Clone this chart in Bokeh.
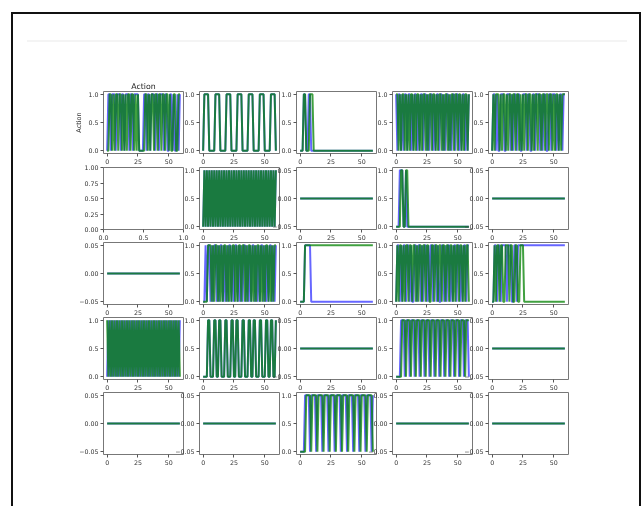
from bokeh.plotting import figure
from bokeh.layouts import row, column
from bokeh.models import FixedTicker, Range1d, Div, PrintfTickFormatter
from bokeh.embed import file_html
from bokeh.resources import INLINE

# ---------------- data (time step, binary action per panel) ----------------
STEPS = list(range(60))

FLAT = [0, 0, 0, 0, 0, 0, 0, 0, 0, 0,
        0, 0, 0, 0, 0, 0, 0, 0, 0, 0,
        0, 0, 0, 0, 0, 0, 0, 0, 0, 0,
        0, 0, 0, 0, 0, 0, 0, 0, 0, 0,
        0, 0, 0, 0, 0, 0, 0, 0, 0, 0,
        0, 0, 0, 0, 0, 0, 0, 0, 0, 0]

R1C1_BLUE = [0, 1, 1, 0, 1, 1, 1, 0, 1, 1,
             1, 0, 1, 1, 0, 1, 1, 1, 0, 1,
             1, 0, 1, 1, 1, 1, 0, 0, 0, 0,
             1, 1, 0, 1, 1, 0, 1, 1, 1, 0,
             1, 1, 0, 1, 1, 1, 0, 1, 1, 0,
             0, 1, 1, 0, 1, 0, 0, 1, 0, 1]
R1C1_GREEN = [0, 0, 1, 1, 0, 1, 0, 1, 1, 0,
              1, 1, 0, 1, 0, 1, 0, 1, 1, 0,
              1, 1, 0, 1, 0, 1, 0, 0, 0, 0,
              0, 1, 1, 0, 1, 0, 1, 1, 0, 1,
              1, 0, 1, 1, 0, 1, 1, 0, 1, 1,
              0, 1, 0, 0, 1, 1, 0, 0, 1, 1]

R1C2_BLUE = [0, 1, 1, 1, 1, 0, 0, 0, 0, 0,
             1, 1, 1, 1, 0, 0, 0, 0, 0, 1,
             1, 1, 1, 0, 0, 0, 0, 0, 1, 1,
             1, 1, 0, 0, 0, 0, 0, 1, 1, 1,
             1, 0, 0, 0, 0, 0, 1, 1, 1, 1,
             0, 0, 0, 0, 0, 1, 1, 1, 1, 0]
R1C2_GREEN = [0, 1, 1, 1, 1, 0, 0, 0, 0, 0,
              1, 1, 1, 1, 0, 0, 0, 0, 0, 1,
              1, 1, 1, 0, 0, 0, 0, 0, 1, 1,
              1, 1, 0, 0, 0, 0, 0, 1, 1, 1,
              1, 0, 0, 0, 0, 0, 1, 1, 1, 1,
              0, 0, 0, 0, 0, 1, 1, 1, 1, 0]

R1C3_BLUE = [0, 0, 0, 1, 1, 0, 0, 1, 1, 0,
             0, 0, 0, 0, 0, 0, 0, 0, 0, 0,
             0, 0, 0, 0, 0, 0, 0, 0, 0, 0,
             0, 0, 0, 0, 0, 0, 0, 0, 0, 0,
             0, 0, 0, 0, 0, 0, 0, 0, 0, 0,
             0, 0, 0, 0, 0, 0, 0, 0, 0, 0]
R1C3_GREEN = [0, 0, 0, 1, 1, 0, 0, 0, 1, 1,
              1, 0, 0, 0, 0, 0, 0, 0, 0, 0,
              0, 0, 0, 0, 0, 0, 0, 0, 0, 0,
              0, 0, 0, 0, 0, 0, 0, 0, 0, 0,
              0, 0, 0, 0, 0, 0, 0, 0, 0, 0,
              0, 0, 0, 0, 0, 0, 0, 0, 0, 0]

R1C4_BLUE = [1, 0, 1, 1, 0, 1, 0, 1, 1, 0,
             1, 1, 0, 1, 0, 1, 1, 0, 1, 0,
             1, 1, 0, 1, 1, 0, 1, 0, 1, 1,
             0, 1, 0, 1, 1, 0, 1, 1, 0, 1,
             0, 1, 1, 0, 1, 0, 1, 1, 0, 1,
             1, 0, 1, 0, 1, 1, 0, 1, 0, 1]
R1C4_GREEN = [1, 1, 0, 1, 0, 1, 1, 0, 1, 0,
              1, 0, 1, 1, 0, 1, 0, 1, 1, 0,
              1, 0, 1, 1, 0, 1, 0, 1, 1, 0,
              1, 1, 0, 1, 0, 1, 1, 0, 1, 0,
              1, 1, 0, 1, 0, 1, 1, 0, 1, 1,
              0, 1, 1, 0, 1, 0, 1, 1, 0, 1]

R1C5_BLUE = [0, 1, 1, 0, 1, 0, 0, 1, 1, 1,
             0, 0, 1, 1, 1, 0, 1, 0, 1, 1,
             0, 1, 1, 0, 0, 1, 1, 1, 0, 1,
             1, 0, 0, 1, 1, 0, 1, 1, 1, 0,
             1, 0, 1, 1, 0, 0, 1, 1, 0, 1,
             1, 1, 0, 1, 0, 1, 1, 0, 1, 1]
R1C5_GREEN = [0, 1, 0, 1, 1, 1, 0, 1, 0, 1,
              1, 0, 1, 0, 1, 1, 0, 1, 1, 0,
              1, 1, 0, 1, 0, 1, 0, 1, 1, 0,
              1, 1, 0, 1, 0, 1, 1, 0, 1, 1,
              0, 1, 1, 0, 1, 1, 0, 1, 1, 0,
              1, 0, 1, 1, 0, 1, 0, 1, 1, 1]

R2C2_BLUE = [0, 1, 0, 1, 0, 1, 0, 1, 0, 1,
             0, 1, 0, 1, 0, 1, 0, 1, 0, 1,
             0, 1, 0, 1, 0, 1, 0, 1, 0, 1,
             0, 1, 0, 1, 0, 1, 0, 1, 0, 1,
             0, 1, 0, 1, 0, 1, 0, 1, 0, 1,
             0, 1, 0, 1, 0, 1, 0, 1, 0, 1]
R2C2_GREEN = [0, 1, 0, 1, 0, 1, 0, 1, 0, 1,
              0, 1, 0, 1, 0, 1, 0, 1, 0, 1,
              0, 1, 0, 1, 0, 1, 0, 1, 0, 1,
              0, 1, 0, 1, 0, 1, 0, 1, 0, 1,
              0, 1, 0, 1, 0, 1, 0, 1, 0, 1,
              0, 1, 0, 1, 0, 1, 0, 1, 0, 1]

R2C4_BLUE = [0, 0, 0, 1, 1, 1, 0, 0, 1, 0,
             0, 0, 0, 0, 0, 0, 0, 0, 0, 0,
             0, 0, 0, 0, 0, 0, 0, 0, 0, 0,
             0, 0, 0, 0, 0, 0, 0, 0, 0, 0,
             0, 0, 0, 0, 0, 0, 0, 0, 0, 0,
             0, 0, 0, 0, 0, 0, 0, 0, 0, 0]
R2C4_GREEN = [0, 0, 0, 0, 1, 1, 0, 0, 1, 1,
              0, 0, 0, 0, 0, 0, 0, 0, 0, 0,
              0, 0, 0, 0, 0, 0, 0, 0, 0, 0,
              0, 0, 0, 0, 0, 0, 0, 0, 0, 0,
              0, 0, 0, 0, 0, 0, 0, 0, 0, 0,
              0, 0, 0, 0, 0, 0, 0, 0, 0, 0]

R3C2_BLUE = [0, 0, 1, 0, 1, 1, 0, 1, 0, 1,
             1, 0, 1, 0, 1, 1, 0, 1, 0, 1,
             0, 1, 1, 0, 1, 0, 1, 1, 0, 1,
             0, 1, 0, 1, 1, 0, 1, 0, 1, 0,
             1, 1, 0, 1, 0, 1, 0, 1, 1, 0,
             1, 0, 1, 0, 1, 1, 0, 1, 0, 1]
R3C2_GREEN = [0, 0, 0, 0, 1, 1, 1, 0, 1, 0,
              1, 1, 0, 1, 0, 1, 0, 1, 1, 0,
              1, 0, 1, 0, 1, 1, 0, 1, 0, 1,
              1, 0, 1, 1, 0, 1, 0, 1, 1, 0,
              1, 0, 1, 0, 1, 1, 0, 1, 0, 1,
              0, 1, 1, 0, 1, 0, 1, 0, 1, 1]

R3C3_BLUE = [0, 0, 0, 0, 1, 1, 1, 1, 1, 0,
             0, 0, 0, 0, 0, 0, 0, 0, 0, 0,
             0, 0, 0, 0, 0, 0, 0, 0, 0, 0,
             0, 0, 0, 0, 0, 0, 0, 0, 0, 0,
             0, 0, 0, 0, 0, 0, 0, 0, 0, 0,
             0, 0, 0, 0, 0, 0, 0, 0, 0, 0]
R3C3_GREEN = [0, 0, 0, 0, 1, 1, 1, 1, 1, 1,
              1, 1, 1, 1, 1, 1, 1, 1, 1, 1,
              1, 1, 1, 1, 1, 1, 1, 1, 1, 1,
              1, 1, 1, 1, 1, 1, 1, 1, 1, 1,
              1, 1, 1, 1, 1, 1, 1, 1, 1, 1,
              1, 1, 1, 1, 1, 1, 1, 1, 1, 1]

R3C4_BLUE = [0, 1, 1, 0, 1, 0, 1, 1, 0, 1,
             1, 0, 1, 0, 0, 1, 1, 0, 1, 1,
             0, 1, 0, 1, 1, 0, 1, 0, 1, 1,
             0, 1, 1, 0, 1, 0, 0, 1, 1, 0,
             1, 0, 1, 1, 0, 1, 0, 1, 1, 0,
             1, 1, 0, 1, 0, 1, 1, 0, 1, 1]
R3C4_GREEN = [0, 1, 0, 1, 1, 0, 1, 0, 1, 1,
              0, 1, 1, 0, 1, 1, 0, 1, 0, 1,
              1, 0, 1, 1, 0, 1, 1, 0, 0, 1,
              1, 0, 1, 1, 0, 1, 1, 0, 1, 1,
              0, 1, 1, 0, 1, 1, 0, 1, 0, 1,
              1, 0, 1, 1, 0, 1, 0, 1, 1, 0]

R3C5_BLUE = [0, 0, 1, 1, 0, 1, 1, 0, 1, 1,
             1, 1, 0, 1, 1, 1, 0, 0, 1, 1,
             0, 1, 1, 1, 1, 1, 1, 1, 1, 1,
             1, 1, 1, 1, 1, 1, 1, 1, 1, 1,
             1, 1, 1, 1, 1, 1, 1, 1, 1, 1,
             1, 1, 1, 1, 1, 1, 1, 1, 1, 1]
R3C5_GREEN = [0, 0, 1, 0, 1, 1, 0, 1, 1, 0,
              0, 1, 1, 1, 0, 1, 1, 0, 0, 1,
              1, 0, 0, 1, 1, 1, 0, 0, 0, 0,
              0, 0, 0, 0, 0, 0, 0, 0, 0, 0,
              0, 0, 0, 0, 0, 0, 0, 0, 0, 0,
              0, 0, 0, 0, 0, 0, 0, 0, 0, 0]

R4C1_BLUE = [0, 1, 0, 1, 0, 1, 0, 1, 0, 1,
             0, 1, 0, 1, 0, 1, 0, 1, 0, 1,
             0, 1, 0, 1, 0, 1, 0, 1, 0, 1,
             0, 1, 0, 1, 0, 1, 0, 1, 0, 1,
             0, 1, 0, 1, 0, 1, 0, 1, 0, 1,
             0, 1, 0, 1, 0, 1, 0, 1, 0, 1]
R4C1_GREEN = [1, 0, 1, 0, 1, 0, 1, 0, 1, 0,
              1, 0, 1, 0, 1, 0, 1, 0, 1, 0,
              1, 0, 1, 0, 1, 0, 1, 0, 1, 0,
              1, 0, 1, 0, 1, 0, 1, 0, 1, 0,
              1, 0, 1, 0, 1, 0, 1, 0, 1, 0,
              1, 0, 1, 0, 1, 0, 1, 0, 1, 0]

R4C2_BLUE = [0, 0, 0, 0, 1, 1, 0, 0, 0, 1,
             1, 0, 0, 1, 1, 0, 0, 0, 1, 1,
             0, 0, 0, 1, 1, 0, 0, 1, 1, 0,
             0, 0, 1, 1, 0, 0, 0, 1, 1, 0,
             0, 1, 1, 0, 0, 0, 1, 1, 0, 0,
             0, 1, 1, 0, 0, 1, 1, 0, 0, 1]
R4C2_GREEN = [0, 0, 0, 0, 1, 1, 0, 0, 0, 1,
              1, 0, 0, 1, 1, 0, 0, 0, 1, 1,
              0, 0, 0, 1, 1, 0, 0, 1, 1, 0,
              0, 0, 1, 1, 0, 0, 0, 1, 1, 0,
              0, 1, 1, 0, 0, 0, 1, 1, 0, 0,
              0, 1, 1, 0, 0, 1, 1, 0, 0, 1]

R4C4_BLUE = [0, 0, 0, 0, 1, 1, 1, 0, 1, 1,
             1, 0, 1, 1, 1, 0, 1, 1, 1, 0,
             1, 1, 1, 0, 1, 1, 1, 0, 1, 1,
             1, 0, 1, 1, 1, 0, 1, 1, 1, 0,
             1, 1, 1, 0, 1, 1, 1, 0, 1, 1,
             1, 0, 1, 1, 1, 0, 1, 1, 1, 0]
R4C4_GREEN = [0, 0, 0, 0, 0, 1, 1, 1, 0, 1,
              1, 1, 0, 1, 1, 1, 0, 1, 1, 1,
              0, 1, 1, 1, 0, 1, 1, 1, 0, 1,
              1, 1, 0, 1, 1, 1, 0, 1, 1, 1,
              0, 1, 1, 1, 0, 1, 1, 1, 0, 1,
              1, 1, 0, 1, 1, 1, 0, 1, 1, 1]

R5C3_BLUE = [0, 0, 0, 0, 1, 1, 1, 1, 0, 1,
             1, 1, 1, 0, 1, 1, 1, 1, 0, 1,
             1, 1, 1, 0, 1, 1, 1, 1, 0, 1,
             1, 1, 1, 0, 1, 1, 1, 1, 0, 1,
             1, 1, 1, 0, 1, 1, 1, 1, 0, 1,
             1, 1, 1, 0, 1, 1, 1, 1, 0, 1]
R5C3_GREEN = [0, 0, 0, 0, 0, 1, 1, 1, 1, 0,
              1, 1, 1, 1, 0, 1, 1, 1, 1, 0,
              1, 1, 1, 1, 0, 1, 1, 1, 1, 0,
              1, 1, 1, 1, 0, 1, 1, 1, 1, 0,
              1, 1, 1, 1, 0, 1, 1, 1, 1, 0,
              1, 1, 1, 1, 0, 1, 1, 1, 1, 0]

# panel grid: (kind, blue series, green series)
PANELS = [
    [("bin", R1C1_BLUE, R1C1_GREEN), ("bin", R1C2_BLUE, R1C2_GREEN),
     ("bin", R1C3_BLUE, R1C3_GREEN), ("bin", R1C4_BLUE, R1C4_GREEN),
     ("bin", R1C5_BLUE, R1C5_GREEN)],
    [("empty", None, None), ("bin", R2C2_BLUE, R2C2_GREEN),
     ("flat", FLAT, FLAT), ("bin", R2C4_BLUE, R2C4_GREEN),
     ("flat", FLAT, FLAT)],
    [("flat", FLAT, FLAT), ("bin", R3C2_BLUE, R3C2_GREEN),
     ("bin", R3C3_BLUE, R3C3_GREEN), ("bin", R3C4_BLUE, R3C4_GREEN),
     ("bin", R3C5_BLUE, R3C5_GREEN)],
    [("bin", R4C1_BLUE, R4C1_GREEN), ("bin", R4C2_BLUE, R4C2_GREEN),
     ("flat", FLAT, FLAT), ("bin", R4C4_BLUE, R4C4_GREEN),
     ("flat", FLAT, FLAT)],
    [("flat", FLAT, FLAT), ("flat", FLAT, FLAT),
     ("bin", R5C3_BLUE, R5C3_GREEN), ("flat", FLAT, FLAT),
     ("flat", FLAT, FLAT)],
]

TITLE = "Action"
YLABEL = "Action"
X_TICKS = [0, 25, 50]
BIN_TICKS = [0, 0.5, 1]
FLAT_TICKS = [-0.05, 0, 0.05]
EMPTY_X_TICKS = [0, 0.5, 1]
EMPTY_Y_TICKS = [0, 0.25, 0.5, 0.75, 1]

# ---------------- layout / style ----------------
FONT = "DejaVu Sans"
LBL = "6.3px"
L, R, B = 45, 6, 20
T_FIRST, T_REST = 24, 6
FW, FH = 80, 62
COL_LEFT = [103, 199, 296, 392, 488]
ROW_TOP = [91, 167, 242, 317, 392]
BLUE = "#0000ff"
GREEN = "#008000"


def style_axis(ax, ticks, fmt, overrides=None):
    ax.ticker = FixedTicker(ticks=ticks)
    ax.formatter = PrintfTickFormatter(format=fmt)
    if overrides:
        ax.major_label_overrides = overrides
    ax.axis_line_color = None
    ax.major_tick_in = 0
    ax.major_tick_out = 3
    ax.major_tick_line_color = "#555555"
    ax.minor_tick_line_color = None
    ax.major_label_text_font = FONT
    ax.major_label_text_font_size = LBL
    ax.major_label_text_color = "#333333"
    ax.major_label_standoff = 2


def make_panel(r, c, kind, blue, green):
    T = T_FIRST if r == 0 else T_REST
    if kind == "empty":
        xr, yr = Range1d(0, 1), Range1d(0, 1)
    elif kind == "flat":
        xr, yr = Range1d(-2.95, 61.95), Range1d(-0.055, 0.055)
    else:
        xr, yr = Range1d(-2.95, 61.95), Range1d(-0.05, 1.05)
    ml = 0 if c == 0 else (COL_LEFT[c] - COL_LEFT[c - 1]) - (L + FW + R)
    p = figure(width=L + FW + R, height=T + FH + B, x_range=xr, y_range=yr,
               output_backend="svg", toolbar_location=None,
               min_border_left=L, min_border_right=R,
               min_border_top=T, min_border_bottom=B,
               border_fill_color=None, background_fill_color=None,
               margin=(0, 0, 0, ml))
    p.grid.visible = False
    p.outline_line_color = "#777777"
    p.outline_line_width = 1
    if kind == "empty":
        style_axis(p.xaxis[0], EMPTY_X_TICKS, "%.1f")
        style_axis(p.yaxis[0], EMPTY_Y_TICKS, "%.2f")
    elif kind == "flat":
        style_axis(p.xaxis[0], X_TICKS, "%d")
        style_axis(p.yaxis[0], FLAT_TICKS, "%.2f", {-0.05: "\u22120.05"})
    else:
        style_axis(p.xaxis[0], X_TICKS, "%d")
        style_axis(p.yaxis[0], BIN_TICKS, "%.1f")
    if blue is not None:
        p.line(STEPS, blue, line_color=BLUE, line_width=2, line_alpha=0.6)
        p.line(STEPS, green, line_color=GREEN, line_width=2, line_alpha=0.75)
    if r == 0 and c == 0:
        p.title.text = TITLE
        p.title.align = "center"
        p.title.text_font = FONT
        p.title.text_font_size = "7.8px"
        p.title.text_font_style = "normal"
        p.title.text_color = "#222222"
        p.title.standoff = 2
        p.yaxis[0].axis_label = YLABEL
        p.yaxis[0].axis_label_text_font = FONT
        p.yaxis[0].axis_label_text_font_size = "6.5px"
        p.yaxis[0].axis_label_text_font_style = "normal"
        p.yaxis[0].axis_label_text_color = "#333333"
        p.yaxis[0].axis_label_standoff = 2
    return p


rows = []
for r in range(5):
    figs = [make_panel(r, c, *PANELS[r][c]) for c in range(5)]
    if r == 0:
        mt = 0
    else:
        mt = (ROW_TOP[r] - T_REST) - (ROW_TOP[r - 1] + FH + B)
    rows.append(row(*figs, spacing=0, margin=(mt, 0, 0, 0)))

grid = column(*rows, spacing=0,
              margin=(ROW_TOP[0] - T_FIRST, 0, 0, COL_LEFT[0] - L))

frame_div = Div(text="", width=630, height=520, margin=0,
                styles={"position": "fixed", "left": "11px", "top": "12px",
                        "border-top": "2px solid #111111",
                        "border-left": "2px solid #111111",
                        "border-right": "2px solid #111111",
                        "box-sizing": "border-box", "z-index": "-1"})
sep_div = Div(text="", width=600, height=2, margin=0,
              styles={"position": "fixed", "left": "27px", "top": "40px",
                      "background": "#f4f4f4", "z-index": "-1"})

root = column(frame_div, sep_div, grid, spacing=0)

open("out.html", "w").write(file_html(root, INLINE))
